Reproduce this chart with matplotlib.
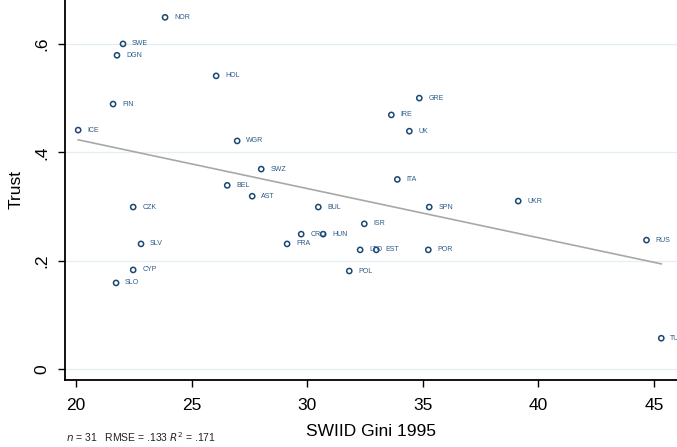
import numpy as np
import matplotlib
matplotlib.use("Agg")
import matplotlib.pyplot as plt

plt.rcParams['font.family'] = ['Liberation Sans', 'DejaVu Sans']

# country codes, Gini (1995) and trust
countries = ["NOR", "SWE", "DGN", "HOL", "FIN", "ICE", "WGR", "GRE", "IRE", "UK",
             "ITA", "SPN", "UKR", "BUL", "ISR", "CRO", "HUN", "LTO", "EST", "POR",
             "POL", "BEL", "AST", "SWZ", "CZK", "SLV", "FRA", "CYP", "SLO", "RUS", "TU"]
gini = [23.85, 22.03, 21.77, 26.06, 21.6, 20.09, 26.97, 34.85, 33.64, 34.42,
        33.9, 35.28, 39.13, 30.48, 32.47, 29.74, 30.69, 32.29, 32.99, 35.24,
        31.82, 26.54, 27.62, 28.01, 22.47, 22.81, 29.13, 22.47, 21.73, 44.68, 45.32]
trust = [0.649, 0.60, 0.579, 0.541, 0.489, 0.441, 0.421, 0.50, 0.469, 0.439,
         0.35, 0.299, 0.31, 0.299, 0.268, 0.249, 0.249, 0.22, 0.22, 0.22,
         0.181, 0.339, 0.319, 0.369, 0.299, 0.231, 0.231, 0.183, 0.159, 0.238, 0.057]

xticks = [20, 25, 30, 35, 40, 45]
yticks = [0, 0.2, 0.4, 0.6]
ytick_labels = ["0", ".2", ".4", ".6"]

navy = "#1a476f"

fig = plt.figure(figsize=(6.77, 4.47), dpi=100)
ax = fig.add_axes([0.096, 0.15, 0.904, 0.85])

for y in yticks:
    ax.axhline(y, color="#e3eef2", lw=0.9, zorder=0)

ax.scatter(gini, trust, s=14, facecolors="none", edgecolors=navy, linewidths=1.1, zorder=3)
for c, x, y in zip(countries, gini, trust):
    ax.annotate(c, (x, y), xytext=(6.5, 0), textcoords="offset points",
                fontsize=5, color="#2a5a8a", va="center", ha="left")

# linear fit
slope, intercept = np.polyfit(gini, trust, 1)
xs = np.array([min(gini), max(gini)])
ax.plot(xs, intercept + slope * xs, color="#a8a8a8", lw=1.2, zorder=2)

ax.set_xlim(19.52, 46.0)
ax.set_ylim(-0.02, 0.681)
ax.set_xticks(xticks)
ax.set_yticks(yticks)
ax.set_yticklabels(ytick_labels, rotation=90, va="center")
ax.tick_params(labelsize=12.5, length=5, width=1)
ax.tick_params(axis="x", pad=8)
ax.tick_params(axis="y", pad=6)

for side in ["top", "right"]:
    ax.spines[side].set_visible(False)
for side in ["left", "bottom"]:
    ax.spines[side].set_linewidth(1.3)

ax.set_ylabel("Trust", fontsize=12.5, labelpad=8)
ax.set_xlabel("SWIID Gini 1995", fontsize=12.5, labelpad=8)

fig.text(0.098, 0.012, r"$n$ = 31   RMSE = .133 $R^2$ = .171", fontsize=7.5, color="#222222")

fig.savefig("out.png", dpi=100)
